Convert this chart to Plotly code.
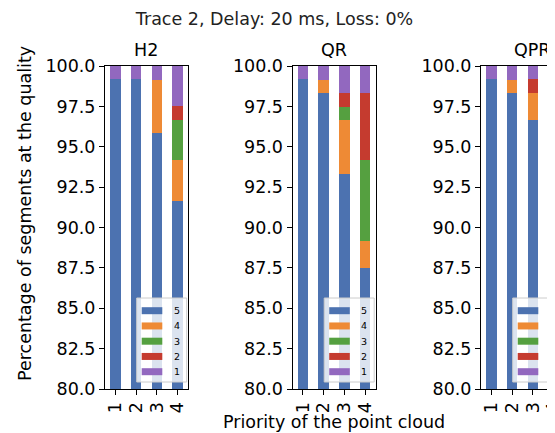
import plotly.graph_objects as go

# ---------------- data ----------------
priorities = ["1", "2", "3", "4"]
quality_levels = ["5", "4", "3", "2", "1"]
panels = ["H2", "QR", "QPR"]

h2_q5 = [99.17, 99.17, 95.83, 91.67]
h2_q4 = [0.0, 0.0, 3.33, 2.50]
h2_q3 = [0.0, 0.0, 0.0, 2.50]
h2_q2 = [0.0, 0.0, 0.0, 0.83]
h2_q1 = [0.83, 0.83, 0.83, 2.50]

qr_q5 = [99.17, 98.33, 93.33, 87.50]
qr_q4 = [0.0, 0.83, 3.33, 1.67]
qr_q3 = [0.0, 0.0, 0.83, 5.00]
qr_q2 = [0.0, 0.0, 0.83, 4.17]
qr_q1 = [0.83, 0.83, 1.67, 1.67]

qpr_q5 = [99.17, 98.33, 96.67, 92.50]
qpr_q4 = [0.0, 0.83, 1.67, 2.50]
qpr_q3 = [0.0, 0.0, 0.0, 2.50]
qpr_q2 = [0.0, 0.0, 0.83, 0.83]
qpr_q1 = [0.83, 0.83, 0.83, 1.67]

y_ticks = [80.0, 82.5, 85.0, 87.5, 90.0, 92.5, 95.0, 97.5, 100.0]

panel_data = {
    "H2": [h2_q5, h2_q4, h2_q3, h2_q2, h2_q1],
    "QR": [qr_q5, qr_q4, qr_q3, qr_q2, qr_q1],
    "QPR": [qpr_q5, qpr_q4, qpr_q3, qpr_q2, qpr_q1],
}

colors = ["#4c72b0", "#ee8a35", "#55a040", "#c53b2f", "#9268bf"]

# ---------------- layout geometry (window pixels) ----------------
WIN_W, WIN_H = 555, 433
OFF = 8                      # default page body margin
FW, FH = WIN_W - OFF, WIN_H - OFF
FONT = "DejaVu Sans"
FS = 17.5
ax_top, ax_bot = 66, 389
ax_w = 83.0
ax_left = [105.0, 292.5, 481.0]
title_cx = [146.5, 334.0, 532.0]
px_per_unit = ax_w / 4.0


def px(x):
    return (x - OFF) / FW


def py(y):
    return 1 - (y - OFF) / FH


fig = go.Figure()

for i, name in enumerate(panels):
    xa = "x" if i == 0 else f"x{i+1}"
    ya = "y" if i == 0 else f"y{i+1}"
    for k, lev in enumerate(quality_levels):
        fig.add_trace(go.Bar(
            x=priorities, y=panel_data[name][k], name=lev,
            marker=dict(color=colors[k], line=dict(width=0)),
            width=0.5, xaxis=xa, yaxis=ya, showlegend=False,
        ))

ydom = [py(ax_bot), py(ax_top)]
axis_common = dict(
    showline=True, mirror=True, linecolor="black", linewidth=1,
    ticks="outside", ticklen=5, tickcolor="black", showgrid=False,
    zeroline=False, tickfont=dict(family=FONT, size=FS, color="black"),
)

layout = dict(
    width=FW, height=FH, barmode="stack",
    margin=dict(l=0, r=0, t=0, b=0, autoexpand=False),
    paper_bgcolor="white", plot_bgcolor="white",
    font=dict(family=FONT, size=FS, color="black"),
    showlegend=False,
    title=dict(text="Trace 2, Delay: 20 ms, Loss: 0%", x=px(274.5), xanchor="center",
               xref="paper", y=py(18.5), yref="container", yanchor="middle",
               font=dict(family=FONT, size=FS, color="#222222")),
)

annotations = []
shapes = []
for i, name in enumerate(panels):
    sfx = "" if i == 0 else str(i + 1)
    left = ax_left[i]
    right_full = left + ax_w
    right = min(right_full, WIN_W)
    xr_end = -0.5 + (right - left) / px_per_unit
    layout["xaxis" + sfx] = dict(
        domain=[px(left), px(right)], anchor="y" + sfx,
        type="category", categoryorder="array", categoryarray=priorities,
        range=[-0.5, xr_end], tickangle=-90,
        tickmode="array", tickvals=priorities, ticktext=priorities,
        **axis_common,
    )
    layout["yaxis" + sfx] = dict(
        domain=ydom, anchor="x" + sfx, range=[80, 100],
        tickmode="array", tickvals=y_ticks,
        ticktext=[f"{v:.1f}" for v in y_ticks], **axis_common,
    )
    # subplot title
    annotations.append(dict(
        text=name, x=px(title_cx[i]), y=py(50), xref="paper", yref="paper",
        xanchor="center", yanchor="middle", showarrow=False,
        font=dict(family=FONT, size=FS, color="black"),
    ))
    # legend (lower right, inside axes)
    shapes.append(dict(
        type="rect", xref="paper", yref="paper",
        x0=px(right_full - 51.3), x1=px(right_full - 1.3), y0=py(382), y1=py(298),
        fillcolor="rgba(255,255,255,0.8)", line=dict(color="#cccccc", width=1),
        layer="above",
    ))
    for j, lev in enumerate(quality_levels):
        yc = 310.7 + j * 15.25
        shapes.append(dict(
            type="rect", xref="paper", yref="paper",
            x0=px(right_full - 46.3), x1=px(right_full - 25.7),
            y0=py(yc + 3.5), y1=py(yc - 3.5),
            fillcolor=colors[j], line=dict(width=0), layer="above",
        ))
        annotations.append(dict(
            text=lev, x=px(right_full - 16.5), y=py(yc), xref="paper", yref="paper",
            xanchor="left", yanchor="middle", showarrow=False,
            font=dict(family=FONT, size=9.5, color="black"),
        ))

annotations.append(dict(
    text="Priority of the point cloud", x=px(334), y=py(422),
    xref="paper", yref="paper", xanchor="center", yanchor="middle", showarrow=False,
    font=dict(family=FONT, size=FS, color="black"),
))
annotations.append(dict(
    text="Percentage of segments at the quality", x=px(25), y=py(214),
    xref="paper", yref="paper", xanchor="center", yanchor="middle", showarrow=False,
    textangle=-90, font=dict(family=FONT, size=FS, color="black"),
))
layout["annotations"] = annotations
layout["shapes"] = shapes

fig.update_layout(**layout)
fig.write_html("out.html")
